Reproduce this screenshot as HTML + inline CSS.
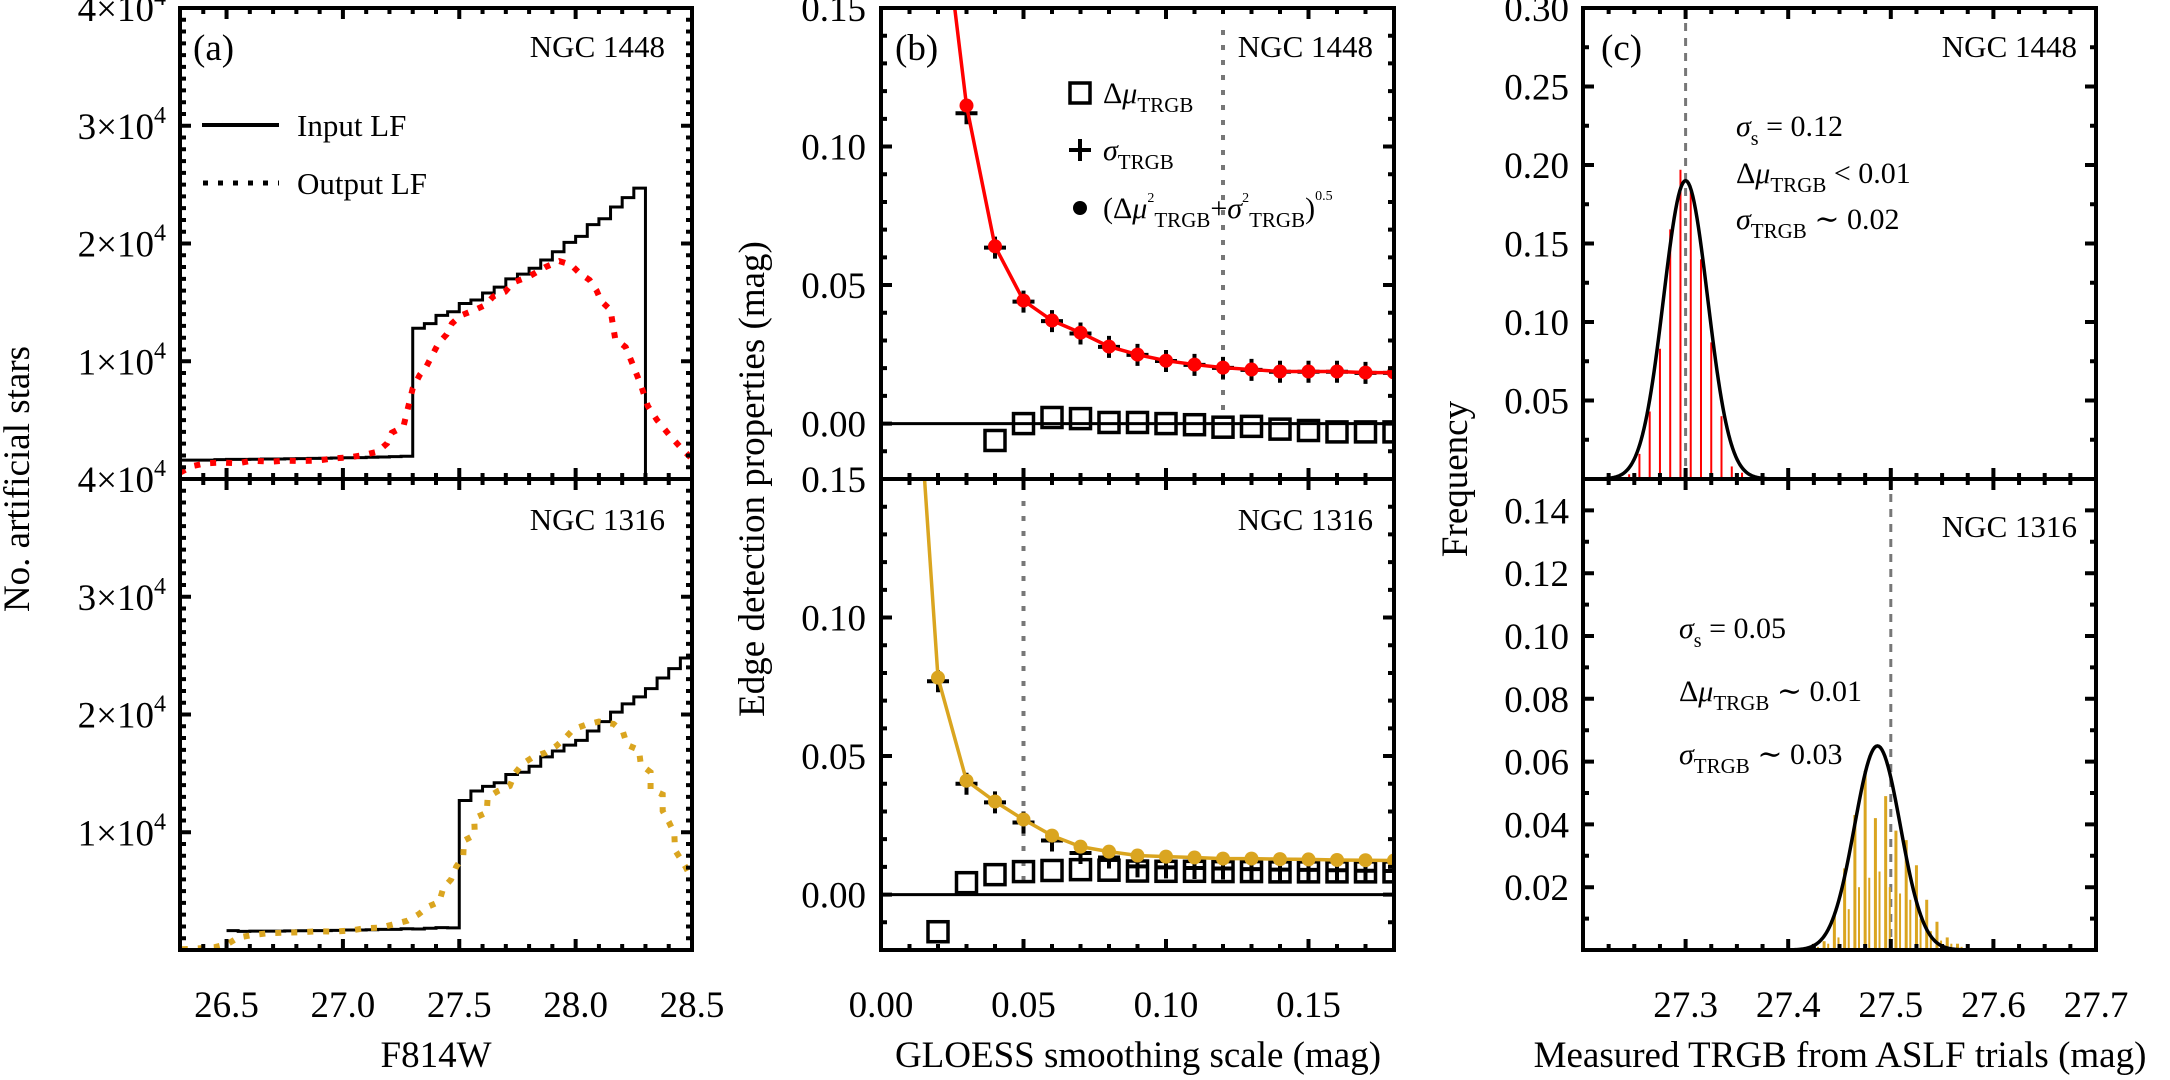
<!DOCTYPE html>
<html>
<head>
<meta charset="utf-8">
<style>
  html,body{margin:0;padding:0;background:#fff;}
  svg{display:block;font-family:"Liberation Serif","DejaVu Serif",serif;}
</style>
</head>
<body>
<svg id="chart" width="2170" height="1080" viewBox="0 0 2170 1080" xmlns="http://www.w3.org/2000/svg">
  <defs>
    <clipPath id="clipAT"><rect x="180" y="8" width="512" height="471"/></clipPath>
    <clipPath id="clipAB"><rect x="180" y="479" width="512" height="471"/></clipPath>
    <clipPath id="clipBT"><rect x="881" y="8" width="513" height="471"/></clipPath>
    <clipPath id="clipBB"><rect x="881" y="479" width="513" height="471"/></clipPath>
    <clipPath id="clipCT"><rect x="1583" y="8" width="513" height="471"/></clipPath>
    <clipPath id="clipCB"><rect x="1583" y="479" width="513" height="471"/></clipPath>
  </defs>
  <rect x="0" y="0" width="2170" height="1080" fill="#fff"/>
</svg>
<script>
// ---------- Panel (a) data (counts in units of 1e4) ----------
const aTopInputStart = 26.3;
const aBinWidth = 0.05;
const aTopInput = [0.16,0.16,0.16,0.165,0.167,0.167,0.168,0.17,0.17,0.172,0.173,0.175,0.176,0.178,0.18,0.182,0.185,0.187,0.19,0.193,
                   1.28,1.32,1.39,1.42,1.49,1.52,1.58,1.63,1.70,1.74,1.79,1.86,1.93,2.01,2.06,2.16,2.21,2.31,2.39,2.47];
const aTopOutM = [26.30,26.355,26.41,26.48,26.55,26.61,26.69,26.75,26.82,26.89,26.96,27.03,27.09,27.15,27.19,27.21,27.26,27.30,27.33,27.36,27.41,27.446,27.468,27.508,27.56,27.61,27.646,27.697,27.73,27.80,27.87,27.93,27.98,28.016,28.06,28.09,28.11,28.15,28.16,28.17,28.215,28.25,28.28,28.31,28.35,28.40,28.45,28.50];
const aTopOutV = [0.054,0.11,0.133,0.14,0.133,0.156,0.147,0.156,0.153,0.156,0.175,0.184,0.204,0.232,0.303,0.393,0.444,0.77,0.883,0.96,1.15,1.229,1.32,1.39,1.43,1.475,1.55,1.59,1.667,1.72,1.80,1.85,1.82,1.75,1.69,1.60,1.51,1.435,1.31,1.19,1.12,0.95,0.80,0.62,0.50,0.38,0.27,0.17];
const aBotInputStart = 26.5;
const aBotInput = [0.165,0.158,0.16,0.16,0.16,0.162,0.164,0.165,0.165,0.167,0.17,0.17,0.172,0.175,0.175,0.18,0.178,0.185,0.19,0.188,
                   1.27,1.35,1.39,1.42,1.49,1.51,1.56,1.64,1.69,1.74,1.78,1.86,1.94,2.02,2.09,2.15,2.22,2.31,2.39,2.48];
const aBotOutM = [26.308,26.381,26.447,26.505,26.549,26.61,26.677,26.748,26.815,26.888,26.96,27.027,27.093,27.161,27.217,27.278,27.325,27.366,27.414,27.431,27.465,27.487,27.517,27.52,27.567,27.564,27.618,27.622,27.666,27.717,27.739,27.771,27.82,27.871,27.917,27.954,27.99,28.041,28.10,28.163,28.203,28.221,28.272,28.28,28.322,28.322,28.374,28.374,28.40,28.424,28.427,28.474,28.50];
const aBotOutV = [0.006,0.014,0.023,0.051,0.105,0.127,0.142,0.147,0.150,0.159,0.156,0.164,0.184,0.190,0.218,0.249,0.303,0.368,0.410,0.524,0.600,0.708,0.793,0.929,0.977,1.119,1.167,1.296,1.350,1.393,1.500,1.580,1.642,1.676,1.733,1.798,1.874,1.911,1.940,1.920,1.855,1.742,1.699,1.575,1.510,1.366,1.320,1.181,1.090,0.991,0.849,0.700,0.60];

// ---------- Panel (b) data ----------
const bTopX = [0.02,0.03,0.04,0.05,0.06,0.07,0.08,0.09,0.10,0.11,0.12,0.13,0.14,0.15,0.16,0.17,0.18];
const bTopTotal = [0.20,0.1148,0.064,0.0444,0.0372,0.0328,0.0278,0.0249,0.0227,0.0213,0.0202,0.0195,0.0188,0.0188,0.0188,0.0184,0.0184];
const bTopSigma = [null,0.112,0.0635,0.044,0.037,0.0325,0.0277,0.0248,0.0226,0.0212,0.0201,0.0194,0.0187,0.0187,0.0187,0.0183,0.0183];
const bTopDelta = [null,null,-0.0061,0.0,0.0022,0.0018,0.0004,0.0004,0.0,-0.0004,-0.0013,-0.001,-0.002,-0.0025,-0.003,-0.003,-0.003];
const bTopOptimal = 0.12;
const bBotX = [0.01,0.02,0.03,0.04,0.05,0.06,0.07,0.08,0.09,0.10,0.11,0.12,0.13,0.14,0.15,0.16,0.17,0.18];
const bBotTotal = [0.23,0.0783,0.0411,0.0336,0.0271,0.0213,0.0173,0.0155,0.0141,0.0137,0.0134,0.013,0.013,0.0128,0.0127,0.0125,0.0124,0.0123];
const bBotSigma = [null,0.077,0.040,0.0333,0.026,0.0195,0.015,0.0134,0.0102,0.0098,0.0096,0.0094,0.0092,0.0090,0.0089,0.0088,0.0086,0.0085];
const bBotDelta = [null,-0.0134,0.0043,0.0072,0.0083,0.0087,0.009,0.0088,0.0085,0.0084,0.0084,0.0083,0.0083,0.0082,0.0082,0.0082,0.0082,0.0082];
const bBotOptimal = 0.05;

// ---------- Panel (c) data ----------
const cTopBins = [27.245,27.255,27.265,27.275,27.285,27.295,27.305,27.315,27.325,27.335,27.345,27.355];
const cTopFreq = [0.003,0.016,0.043,0.083,0.159,0.197,0.185,0.14,0.087,0.040,0.008,0.004];
const cTopFit = {mu:27.30, sig:0.0215, amp:0.19};
const cTopTrue = 27.30;
const cBotBins = [27.425,27.435,27.445,27.455,27.465,27.475,27.485,27.495,27.505,27.515,27.525,27.535,27.545,27.555,27.565];
const cBotFreq = [0.002,0.0028,0.011,0.026,0.043,0.057,0.042,0.049,0.038,0.035,0.027,0.016,0.009,0.004,0.002];
const cBotFreq2 = [0.001,0.002,0.004,0.013,0.020,0.023,0.025,0.020,0.018,0.016,0.010,0.006,0.003,0.002,0.001];
const cBotFit = {mu:27.487, sig:0.0224, amp:0.065};
const cBotTrue = 27.50;

// tick label arrays
const aYTicks = [1,2,3,4];
const aXTicks = ["26.5","27.0","27.5","28.0","28.5"];
const bYTicks = ["0.00","0.05","0.10","0.15"];
const bXTicks = ["0.00","0.05","0.10","0.15"];
const cTopYTicks = ["0.05","0.10","0.15","0.20","0.25","0.30"];
const cBotYTicks = ["0.02","0.04","0.06","0.08","0.10","0.12","0.14"];
const cXTicks = ["27.3","27.4","27.5","27.6","27.7"];

const NS = "http://www.w3.org/2000/svg";
const svg = document.getElementById('chart');
function mk(tag, attrs, parent){
  const e = document.createElementNS(NS, tag);
  for (const k in attrs) e.setAttribute(k, attrs[k]);
  (parent || svg).appendChild(e);
  return e;
}
function panel(x0,x1,y0,y1,xmin,xmax,ymin,ymax,clip){
  return {x0,x1,y0,y1,xmin,xmax,ymin,ymax,clip,
    sx:function(v){return this.x0+(v-this.xmin)/(this.xmax-this.xmin)*(this.x1-this.x0);},
    sy:function(v){return this.y1-(v-this.ymin)/(this.ymax-this.ymin)*(this.y1-this.y0);}};
}
const AT = panel(180,692,8,479,26.3,28.5,0,4,'clipAT');
const AB = panel(180,692,479,950,26.3,28.5,0,4,'clipAB');
const BT = panel(881,1394,8,479,0,0.18,-0.02,0.15,'clipBT');
const BB = panel(881,1394,479,950,0,0.18,-0.02,0.15,'clipBB');
const CT = panel(1583,2096,8,479,27.2,27.7,0,0.30,'clipCT');
const CB = panel(1583,2096,479,950,27.2,27.7,0,0.15,'clipCB');

function group(clip, name){
  const g = mk('g', clip ? {'clip-path':'url(#'+clip+')'} : {});
  
  
  return g;
}

// ---------- axes & ticks ----------
function ticks(p, xMajor, xMinor, yMajor, yMinor, name){
  const g = group(null, name);
  let d = '';
  const eps = 1e-9;
  for (let v = p.xmin; v <= p.xmax + eps; v += xMinor){
    const isMaj = Math.abs(Math.round((v - xMajor[0]) / xMajor[1]) * xMajor[1] - (v - xMajor[0])) < 1e-6;
    const L = isMaj ? 11 : 6, x = p.sx(v);
    d += 'M'+x+' '+p.y1+'v'+(-L)+'M'+x+' '+p.y0+'v'+L;
  }
  for (let v = p.ymin; v <= p.ymax + eps; v += yMinor){
    const isMaj = Math.abs(Math.round((v - yMajor[0]) / yMajor[1]) * yMajor[1] - (v - yMajor[0])) < 1e-6;
    const L = isMaj ? 11 : 6, y = p.sy(v);
    d += 'M'+p.x0+' '+y+'h'+L+'M'+p.x1+' '+y+'h'+(-L);
  }
  const t = mk('path', {d:d, stroke:'#000', 'stroke-width':4, fill:'none'}, g);
  
  
  const r = mk('rect', {x:p.x0, y:p.y0, width:p.x1-p.x0, height:p.y1-p.y0, fill:'none', stroke:'#000', 'stroke-width':4}, g);
  
  
}
function label(txt, x, y, opts, parent){
  const t = mk('text', Object.assign({x:x, y:y, 'font-size':37, fill:'#000'}, opts||{}), parent);
  t.textContent = txt;
  return t;
}

// y tick labels
aYTicks.forEach(function(v){
  [AT, AB].forEach(function(p, i){
    const t = mk('text', {x:166, y:p.sy(v)+13, 'font-size':37, 'text-anchor':'end'});
    
    
    const s1 = mk('tspan', {}, t); s1.textContent = v + '×10';
    const s2 = mk('tspan', {dy:-16, 'font-size':24}, t); s2.textContent = '4';
  });
});
bYTicks.forEach(function(s){
  [BT, BB].forEach(function(p){
    const t = label(s, 866, p.sy(parseFloat(s))+13, {'text-anchor':'end'});
    
    
  });
});
cTopYTicks.forEach(function(s){
  const t = label(s, 1569, CT.sy(parseFloat(s))+13, {'text-anchor':'end'});
  
  
});
cBotYTicks.forEach(function(s){
  const t = label(s, 1569, CB.sy(parseFloat(s))+13, {'text-anchor':'end'});
  
  
});
aXTicks.forEach(function(s){
  const t = label(s, AB.sx(parseFloat(s)), 1017, {'text-anchor':'middle'});
  
  
});
bXTicks.forEach(function(s){
  const t = label(s, BB.sx(parseFloat(s)), 1017, {'text-anchor':'middle'});
  
  
});
cXTicks.forEach(function(s){
  const t = label(s, CB.sx(parseFloat(s)), 1017, {'text-anchor':'middle'});
  
  
});

// axis titles
let tt;
tt = label('F814W', 436, 1067, {'text-anchor':'middle'});


tt = label('GLOESS smoothing scale (mag)', 1138, 1067, {'text-anchor':'middle'});


tt = label('Measured TRGB from ASLF trials (mag)', 1840, 1067, {'text-anchor':'middle'});


tt = label('No. artificial stars', 0, 0, {'text-anchor':'middle', transform:'translate(29,479) rotate(-90)'});


tt = label('Edge detection properties (mag)', 0, 0, {'text-anchor':'middle', transform:'translate(764,479) rotate(-90)'});


tt = label('Frequency', 0, 0, {'text-anchor':'middle', transform:'translate(1467,479) rotate(-90)'});



// ---------- Panel (a) series ----------
function stepPath(p, start, vals){
  let d = 'M'+p.sx(start)+' '+p.sy(vals[0]);
  for (let i = 0; i < vals.length; i++){
    const xl = p.sx(start + i*aBinWidth), xr = p.sx(start + (i+1)*aBinWidth);
    d += 'L'+xl+' '+p.sy(vals[i])+'L'+xr+' '+p.sy(vals[i]);
  }
  return d;
}
function linePath(p, xs, ys){
  let d = '';
  for (let i = 0; i < xs.length; i++){
    if (ys[i] === null) continue;
    d += (d === '' ? 'M' : 'L') + p.sx(xs[i]) + ' ' + p.sy(ys[i]);
  }
  return d;
}
let g, el;
g = group(AT.clip, 'panel-a-top-series');
el = mk('path', {d: stepPath(AT, aTopInputStart, aTopInput) + 'L'+AT.sx(aTopInputStart+aTopInput.length*aBinWidth)+' '+AT.sy(0), fill:'none', stroke:'#000', 'stroke-width':3}, g);


el = mk('path', {d: linePath(AT, aTopOutM, aTopOutV), fill:'none', stroke:'#ff0000', 'stroke-width':6, 'stroke-dasharray':'6 10'}, g);



g = group(AB.clip, 'panel-a-bottom-series');
el = mk('path', {d: stepPath(AB, aBotInputStart, aBotInput), fill:'none', stroke:'#000', 'stroke-width':3}, g);


el = mk('path', {d: linePath(AB, aBotOutM, aBotOutV), fill:'none', stroke:'#DAA520', 'stroke-width':6, 'stroke-dasharray':'6 10'}, g);



// ---------- Panel (b) series ----------
function drawB(p, xs, total, sigma, delta, optimal, color, name){
  const g = group(p.clip, name);
  const vl = mk('line', {x1:p.sx(optimal), x2:p.sx(optimal), y1:p.y0+22, y2:p.sy(0)-8, stroke:'#777', 'stroke-width':4, 'stroke-dasharray':'5 10'}, g);
  
  
  const zl = mk('line', {x1:p.x0, x2:p.x1, y1:p.sy(0), y2:p.sy(0), stroke:'#000', 'stroke-width':3}, g);
  
  
  for (let i = 0; i < xs.length; i++){
    if (delta[i] === null) continue;
    const sq = mk('rect', {x:p.sx(xs[i])-10, y:p.sy(delta[i])-10, width:20, height:20, fill:'none', stroke:'#000', 'stroke-width':3.5}, g);
    
    
  }
  for (let i = 0; i < xs.length; i++){
    if (sigma[i] === null) continue;
    const x = p.sx(xs[i]), y = p.sy(sigma[i]);
    const pl = mk('path', {d:'M'+(x-11)+' '+y+'h22M'+x+' '+(y-11)+'v22', stroke:'#000', 'stroke-width':4, fill:'none'}, g);
    
    
  }
  const ln = mk('path', {d:linePath(p, xs, total), fill:'none', stroke:color, 'stroke-width':3.5}, g);
  
  
  for (let i = 0; i < xs.length; i++){
    if (total[i] > p.ymax) continue;
    const c = mk('circle', {cx:p.sx(xs[i]), cy:p.sy(total[i]), r:7, fill:color}, g);
    
    
  }
}
drawB(BT, bTopX, bTopTotal, bTopSigma, bTopDelta, bTopOptimal, '#ff0000', 'panel-b-top-series');
drawB(BB, bBotX, bBotTotal, bBotSigma, bBotDelta, bBotOptimal, '#DAA520', 'panel-b-bottom-series');

// ---------- Panel (c) series ----------
function gaussPath(p, fit){
  let d = '';
  for (let k = 0; k <= 120; k++){
    const m = fit.mu - 3.9*fit.sig + k*(7.8*fit.sig/120);
    const v = fit.amp*Math.exp(-0.5*Math.pow((m-fit.mu)/fit.sig,2));
    d += (k===0?'M':'L') + p.sx(m) + ' ' + p.sy(v);
  }
  return d;
}
g = group(CT.clip, 'panel-c-top-series');
el = mk('line', {x1:CT.sx(cTopTrue), x2:CT.sx(cTopTrue), y1:CT.y0, y2:CT.y1, stroke:'#777', 'stroke-width':3, 'stroke-dasharray':'8 7'}, g);


for (let i = 0; i < cTopBins.length; i++){
  const b = mk('line', {x1:CT.sx(cTopBins[i]), x2:CT.sx(cTopBins[i]), y1:CT.sy(0), y2:CT.sy(cTopFreq[i]), stroke:'#ff0000', 'stroke-width':2}, g);
  
  
}
el = mk('path', {d:gaussPath(CT, cTopFit), fill:'none', stroke:'#000', 'stroke-width':3.5}, g);



g = group(CB.clip, 'panel-c-bottom-series');
el = mk('line', {x1:CB.sx(cBotTrue), x2:CB.sx(cBotTrue), y1:CB.y0, y2:CB.y1, stroke:'#777', 'stroke-width':3, 'stroke-dasharray':'8 7'}, g);


for (let i = 0; i < cBotBins.length; i++){
  const b = mk('line', {x1:CB.sx(cBotBins[i]), x2:CB.sx(cBotBins[i]), y1:CB.sy(0), y2:CB.sy(cBotFreq[i]), stroke:'#DAA520', 'stroke-width':3}, g);
  
  
  const b2 = mk('line', {x1:CB.sx(cBotBins[i]+0.004), x2:CB.sx(cBotBins[i]+0.004), y1:CB.sy(0), y2:CB.sy(cBotFreq2[i]), stroke:'#DAA520', 'stroke-width':2}, g);
  
  
}
el = mk('path', {d:gaussPath(CB, cBotFit), fill:'none', stroke:'#000', 'stroke-width':3.5}, g);



// frames & ticks on top
ticks(AT, [26.5,0.5], 0.1, [0,1], 0.1, 'panel-a-top-axes');
ticks(AB, [26.5,0.5], 0.1, [0,1], 0.1, 'panel-a-bottom-axes');
ticks(BT, [0,0.05], 0.01, [0,0.05], 0.01, 'panel-b-top-axes');
ticks(BB, [0,0.05], 0.01, [0,0.05], 0.01, 'panel-b-bottom-axes');
ticks(CT, [27.2,0.1], 0.025, [0,0.05], 0.025, 'panel-c-top-axes');
ticks(CB, [27.2,0.1], 0.025, [0,0.02], 0.01, 'panel-c-bottom-axes');

// ---------- panel labels ----------
function ptext(txt, x, y, name, anchor){
  const t = label(txt, x, y, {'font-size': 31, 'text-anchor': anchor||'start'});
  
  
  return t;
}
let pl;
pl = label('(a)', 193, 60, {'font-size':37});


pl = label('(b)', 895, 60, {'font-size':37});


pl = label('(c)', 1601, 60, {'font-size':37});


ptext('NGC 1448', 665, 57, 'galaxy-label', 'end');
ptext('NGC 1316', 665, 530, 'galaxy-label', 'end');
ptext('NGC 1448', 1373, 57, 'galaxy-label', 'end');
ptext('NGC 1316', 1373, 530, 'galaxy-label', 'end');
ptext('NGC 1448', 2077, 57, 'galaxy-label', 'end');
ptext('NGC 1316', 2077, 537, 'galaxy-label', 'end');

// legend (a)
el = mk('line', {x1:202, x2:279, y1:125, y2:125, stroke:'#000', 'stroke-width':4});


ptext('Input LF', 297, 136, 'legend-input-label');
el = mk('line', {x1:203, x2:279, y1:183, y2:183, stroke:'#000', 'stroke-width':5, 'stroke-dasharray':'5 10'});


ptext('Output LF', 297, 194, 'legend-output-label');

// legend (b)
el = mk('rect', {x:1070, y:83, width:20, height:20, fill:'none', stroke:'#000', 'stroke-width':3.5});


function richText(x, y, parts, name, size){
  const t = mk('text', {x:x, y:y, 'font-size':size||30});
  
  
  parts.forEach(function(pt){
    const s = mk('tspan', pt[1] || {}, t);
    s.textContent = pt[0];
  });
  return t;
}
richText(1103, 103, [['Δ'],['μ',{'font-style':'italic'}],['TRGB',{'font-size':21,dy:9}]], 'legend-delta-label');
el = mk('path', {d:'M1069 150h22M1080 139v22', stroke:'#000', 'stroke-width':4});


richText(1103, 160, [['σ',{'font-style':'italic'}],['TRGB',{'font-size':21,dy:9}]], 'legend-sigma-label');
el = mk('circle', {cx:1080, cy:208, r:7, fill:'#000'});


richText(1103, 218, [['(Δ'],['μ',{'font-style':'italic'}],['2',{'font-size':14,dy:-16}],['TRGB',{'font-size':21,dy:25}],['+',{dy:-9}],['σ',{'font-style':'italic'}],['2',{'font-size':14,dy:-16}],['TRGB',{'font-size':21,dy:25}],[')',{dy:-9}],['0.5',{'font-size':14,dy:-18}]], 'legend-total-label');

// annotations (c)
richText(1736, 136, [['σ',{'font-style':'italic'}],['s',{'font-size':20,dy:9}],[' = 0.12',{dy:-9}]], 'annotation-smoothing');
richText(1736, 183, [['Δ'],['μ',{'font-style':'italic'}],['TRGB',{'font-size':21,dy:9}],[' < 0.01',{dy:-9}]], 'annotation-bias');
richText(1736, 229, [['σ',{'font-style':'italic'}],['TRGB',{'font-size':21,dy:9}],[' ∼ 0.02',{dy:-9}]], 'annotation-dispersion');
richText(1679, 638, [['σ',{'font-style':'italic'}],['s',{'font-size':20,dy:9}],[' = 0.05',{dy:-9}]], 'annotation-smoothing');
richText(1679, 701, [['Δ'],['μ',{'font-style':'italic'}],['TRGB',{'font-size':21,dy:9}],[' ∼ 0.01',{dy:-9}]], 'annotation-bias');
richText(1679, 764, [['σ',{'font-style':'italic'}],['TRGB',{'font-size':21,dy:9}],[' ∼ 0.03',{dy:-9}]], 'annotation-dispersion');
</script>
</body>
</html>
